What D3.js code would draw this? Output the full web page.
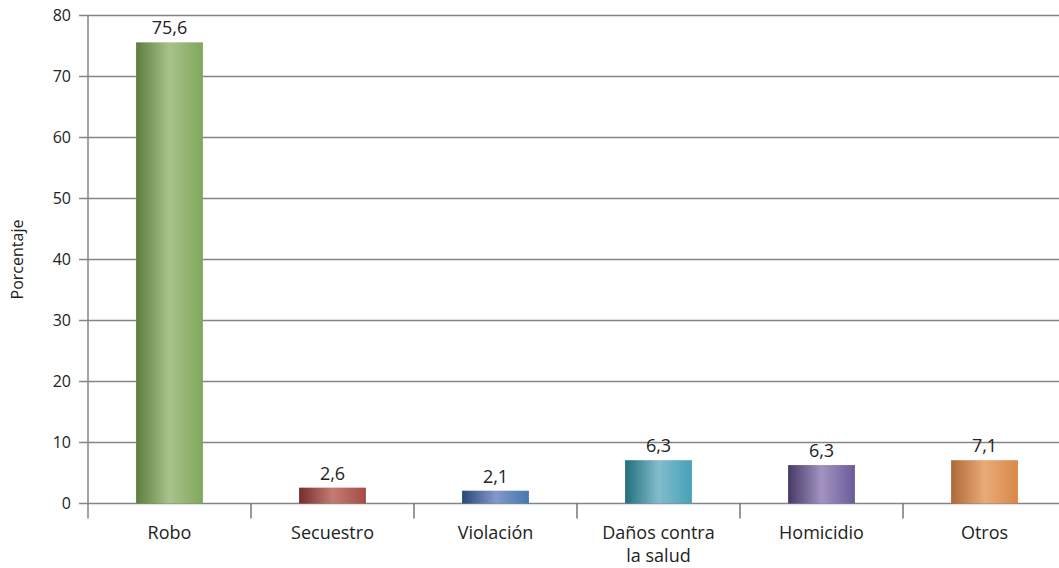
<!DOCTYPE html>
<html>
<head>
<meta charset="utf-8">
<script src="https://cdn.jsdelivr.net/npm/d3@7"></script>
<style>
  body { margin: 0; background: #fff; }
  svg { display: block; font-family: "Open Sans", sans-serif; }
</style>
</head>
<body>
<svg id="chart" width="1059" height="568"></svg>
<script>
// categories, bar heights and the printed labels
var categories = ["Robo", "Secuestro", "Violación", "Daños contra la salud", "Homicidio", "Otros"];
var catLines = [["Robo"], ["Secuestro"], ["Violación"], ["Daños contra", "la salud"], ["Homicidio"], ["Otros"]];
var values = [75.6, 2.6, 2.1, 7.1, 6.3, 7.1];
var valueLabels = ["75,6", "2,6", "2,1", "6,3", "6,3", "7,1"];
var yTicks = [0, 10, 20, 30, 40, 50, 60, 70, 80];
// gradient stops per bar: dark edge, light middle, right edge
var barColors = [
    ["#5c7e3e", "#a9c28c", "#80a75a"],
    ["#782c2c", "#c27c72", "#a64a48"],
    ["#284876", "#8299c9", "#4777b0"],
    ["#236f7d", "#82bccb", "#46a1b8"],
    ["#473965", "#a293c2", "#6b5a99"],
    ["#ae6837", "#eaaa7a", "#d98747"]
];

var svg = d3.select("#chart");
var mLeft = 88, mRight = 1066, mTop = 15.5, mBottom = 503.5;

var x = d3.scaleBand()
    .domain(categories)
    .range([mLeft, mRight])
    .paddingInner(0.59)
    .paddingOuter(0.295);

var y = d3.scaleLinear()
    .domain([0, 80])
    .range([mBottom, mTop]);

// gradients
var defs = svg.append("defs");
barColors.forEach(function(c, i){
    var g = defs.append("linearGradient")
        .attr("id", "grad" + i)
        .attr("x1", "0%").attr("x2", "100%")
        .attr("y1", "0%").attr("y2", "0%");
    g.append("stop").attr("offset", "0%").attr("stop-color", c[0]);
    g.append("stop").attr("offset", "50%").attr("stop-color", c[1]);
    g.append("stop").attr("offset", "100%").attr("stop-color", c[2]);
});

// gridlines
svg.append("g").selectAll("line")
    .data(yTicks)
    .enter()
    .append("line")
    .attr("x1", mLeft - 9)
    .attr("x2", 1059)
    .attr("y1", d => y(d))
    .attr("y2", d => y(d))
    .attr("stroke", "#858585")
    .attr("stroke-width", 1.5);

// y axis line
svg.append("line")
    .attr("x1", mLeft).attr("x2", mLeft)
    .attr("y1", mTop).attr("y2", mBottom + 15)
    .attr("stroke", "#858585")
    .attr("stroke-width", 1.5);

// y tick labels
svg.append("g").selectAll("text")
    .data(yTicks)
    .enter()
    .append("text")
    .attr("x", 71)
    .attr("y", d => y(d) + 5.5)
    .attr("text-anchor", "end")
    .attr("font-size", 16)
    .attr("fill", "#222")
    .text(d => d);

// category separators
var step = x.step();
svg.append("g").selectAll("line")
    .data(categories.slice(1))
    .enter()
    .append("line")
    .attr("x1", d => x(d) - step * x.paddingInner() / 2)
    .attr("x2", d => x(d) - step * x.paddingInner() / 2)
    .attr("y1", mBottom)
    .attr("y2", mBottom + 15)
    .attr("stroke", "#555")
    .attr("stroke-width", 1.2);

// bars
svg.append("g").selectAll("rect")
    .data(values)
    .enter()
    .append("rect")
    .attr("x", (d, i) => x(categories[i]))
    .attr("width", x.bandwidth())
    .attr("y", d => y(d))
    .attr("height", d => mBottom - y(d))
    .attr("fill", (d, i) => "url(#grad" + i + ")");

// value labels
svg.append("g").selectAll("text")
    .data(values)
    .enter()
    .append("text")
    .attr("x", (d, i) => x(categories[i]) + x.bandwidth() / 2)
    .attr("y", d => y(d) - 8)
    .attr("text-anchor", "middle")
    .attr("font-size", 18)
    .attr("fill", "#222")
    .text((d, i) => valueLabels[i]);

// category labels
var cat = svg.append("g").selectAll("text")
    .data(categories)
    .enter()
    .append("text")
    .attr("x", d => x(d) + x.bandwidth() / 2)
    .attr("y", 539)
    .attr("text-anchor", "middle")
    .attr("font-size", 18)
    .attr("fill", "#222");
cat.each(function(d, i){
    var t = d3.select(this);
    catLines[i].forEach(function(line, j){
        t.append("tspan")
            .attr("x", x(d) + x.bandwidth() / 2)
            .attr("dy", j == 0 ? 0 : 23)
            .text(line);
    });
});

// y title
svg.append("text")
    .attr("transform", "translate(23," + ((mTop + mBottom) / 2) + ") rotate(-90)")
    .attr("text-anchor", "middle")
    .attr("font-size", 16)
    .attr("fill", "#222")
    .text("Porcentaje");
</script>
</body>
</html>
